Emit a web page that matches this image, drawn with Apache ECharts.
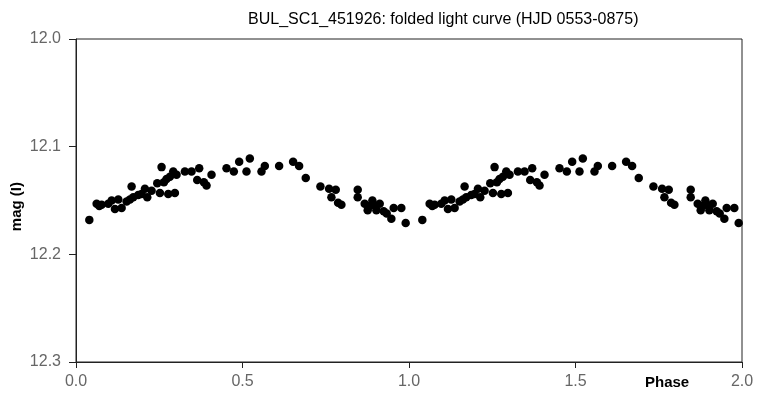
<!DOCTYPE html>
<html>
<head>
<meta charset="utf-8">
<script src="https://cdn.jsdelivr.net/npm/echarts@6/dist/echarts.min.js"></script>
<style>html,body{margin:0;padding:0;background:#fff}#c{width:758px;height:406px}</style>
</head>
<body>
<div id="c"></div>
<script>
// Folded light curve: phase (0-1) and I magnitude
var phases = [0.040,0.062,0.070,0.077,0.097,0.107,0.117,0.127,0.137,0.152,0.162,0.167,0.172,0.187,0.197,0.207,0.214,0.227,0.244,0.252,0.257,0.264,0.272,0.277,0.282,0.292,0.297,0.302,0.327,0.347,0.364,0.370,0.384,0.392,0.407,0.452,0.474,0.490,0.512,0.522,0.557,0.567,0.610,0.652,0.670,0.690,0.734,0.760,0.780,0.767,0.787,0.797,0.846,0.846,0.867,0.876,0.882,0.890,0.894,0.902,0.912,0.924,0.933,0.947,0.954,0.977,0.990];
var mags = [12.168,12.153,12.155,12.154,12.153,12.150,12.158,12.149,12.157,12.151,12.149,12.137,12.147,12.145,12.144,12.139,12.147,12.141,12.134,12.143,12.119,12.133,12.130,12.144,12.128,12.123,12.143,12.126,12.123,12.123,12.131,12.120,12.133,12.136,12.126,12.120,12.123,12.114,12.123,12.111,12.123,12.118,12.118,12.114,12.118,12.129,12.137,12.139,12.140,12.147,12.152,12.154,12.140,12.147,12.153,12.159,12.155,12.150,12.154,12.159,12.153,12.160,12.162,12.167,12.157,12.157,12.171];
var xTicks = [0.0,0.5,1.0,1.5,2.0];
var yTicks = [12.0,12.1,12.2,12.3];

var pts = [];
for (var i = 0; i < phases.length; i++) {
  pts.push([phases[i], mags[i]]);
  pts.push([phases[i] + 1, mags[i]]);
}

var chart = echarts.init(document.getElementById('c'));
var labFont = {fontFamily:'Liberation Sans, Arial, sans-serif', fontSize:16, color:'#666'};
chart.setOption({
  animation:false,
  title:{text:'BUL_SC1_451926: folded light curve (HJD 0553-0875)', left:243, top:7,
    textStyle:{fontFamily:'Liberation Sans, Arial, sans-serif', fontSize:16, fontWeight:'normal', color:'#000'}},
  grid:{left:76, right:16, top:39, bottom:44, show:true, borderColor:'#222', borderWidth:1, backgroundColor:'#fff'},
  xAxis:{type:'value', min:xTicks[0], max:xTicks[xTicks.length-1], interval:0.5,
    axisLine:{show:true, lineStyle:{color:'#222'}},
    axisTick:{show:true, length:6, lineStyle:{color:'#222'}},
    splitLine:{show:false},
    axisLabel:Object.assign({margin:12, formatter:function(v){return v.toFixed(1);}}, labFont)},
  yAxis:{type:'value', inverse:true, min:yTicks[0], max:yTicks[yTicks.length-1], interval:0.1,
    axisLine:{show:true, lineStyle:{color:'#222'}},
    axisTick:{show:true, length:7, lineStyle:{color:'#222'}},
    splitLine:{show:false},
    axisLabel:Object.assign({margin:15, formatter:function(v){return v.toFixed(1);}}, labFont)},
  graphic:[
    {type:'text', left:9, top:182, rotation:Math.PI/2, style:{text:'mag (I)', font:'bold 15px Liberation Sans, Arial, sans-serif', fill:'#000'}},
    {type:'text', left:645, top:375, style:{text:'Phase', font:'bold 15px Liberation Sans, Arial, sans-serif', fill:'#000'}}
  ],
  series:[{type:'scatter', data:pts, symbol:'circle', symbolSize:8.5, itemStyle:{color:'#000', opacity:1}}]
});
</script>
</body>
</html>
